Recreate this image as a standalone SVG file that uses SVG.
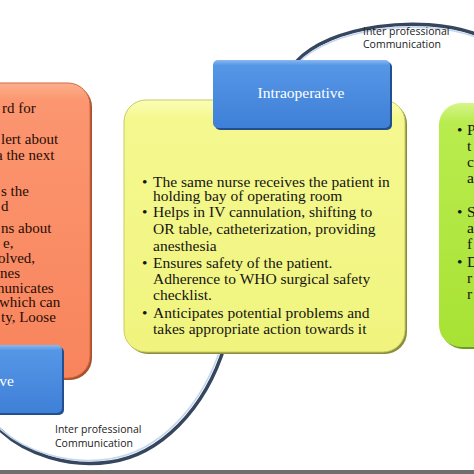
<svg xmlns="http://www.w3.org/2000/svg" width="474" height="474" viewBox="0 0 474 474">
<defs>
<linearGradient id="gOr" x1="0" y1="0" x2="0" y2="1"><stop offset="0" stop-color="#fcb08a"/><stop offset="0.06" stop-color="#fb9670"/><stop offset="1" stop-color="#f8845c"/></linearGradient>
<linearGradient id="gYe" x1="0" y1="0" x2="0" y2="1"><stop offset="0" stop-color="#fbfdb8"/><stop offset="0.07" stop-color="#f5f88f"/><stop offset="1" stop-color="#f0f47e"/></linearGradient>
<linearGradient id="gGr" x1="0" y1="0" x2="0" y2="1"><stop offset="0" stop-color="#d4f58a"/><stop offset="0.08" stop-color="#b9ec4e"/><stop offset="1" stop-color="#a8e234"/></linearGradient>
<linearGradient id="gBl" x1="0" y1="0" x2="0" y2="1"><stop offset="0" stop-color="#8ab8f0"/><stop offset="0.08" stop-color="#5596e6"/><stop offset="1" stop-color="#3f80d8"/></linearGradient>
</defs>
<style>
.t{font-family:"Liberation Serif","Times New Roman",serif;font-size:15.5px;fill:#141414}
.to{font-family:"Liberation Serif","Times New Roman",serif;font-size:15px;fill:#2a0c04}
.tw{font-family:"Liberation Serif","Times New Roman",serif;font-size:15.5px;fill:#ffffff}
.lab{font-family:"Open Sans","Liberation Sans",sans-serif;font-size:10.5px;fill:#222}
.arcD{fill:none;stroke:#36465f;stroke-width:3.5}
.arcL{fill:none;stroke:#c4d7ee;stroke-width:1.6}
</style>
<rect x="0" y="470" width="474" height="4" fill="#6e6e6e"/>
<g id="connectors">
<path class="arcD" d="M 296 62 C 330 25, 420 14, 476 34"/>
<path class="arcL" d="M 297 64 C 331 28, 420 17, 476 37"/>
<path class="arcD" d="M -2 428 C 25 455, 70 468, 110 462 C 160 455, 205 410, 225 345"/>
<path class="arcL" d="M -3 426 C 24 452, 69 465, 109 459 C 158 452, 202 408, 222 344"/>
<text class="lab" x="363" y="35">Inter professional</text>
<text class="lab" x="363" y="48">Communication</text>
<text class="lab" x="55" y="433">Inter professional</text>
<text class="lab" x="55" y="447">Communication</text>
</g>
<g id="preop-box">
<rect x="-28" y="85" width="120" height="295" rx="22" fill="#a9512d"/>
<rect x="-30" y="83" width="120" height="295" rx="22" fill="url(#gOr)" stroke="#d06a44" stroke-width="1"/>
<text class="to" x="2" y="113">rd for</text>
<text class="to" x="1" y="144">lert about</text>
<text class="to" x="-4" y="160">a the next</text>
<text class="to" x="1" y="196">s the</text>
<text class="to" x="1" y="211">d</text>
<text class="to" x="1" y="233">ns about</text>
<text class="to" x="3" y="248">e,</text>
<text class="to" x="-2" y="263">olved,</text>
<text class="to" x="0" y="278">nes</text>
<text class="to" x="-3" y="293">nunicates</text>
<text class="to" x="-1" y="307">which can</text>
<text class="to" x="1" y="322">ty, Loose</text>
</g>
<g id="preop-label">
<rect x="-38" y="347" width="102" height="68" rx="5" fill="#244f8f"/>
<rect x="-40" y="345" width="102" height="68" rx="5" fill="url(#gBl)"/>
<text class="tw" x="14" y="386" text-anchor="end">ve</text>
</g>
<g id="intraop-box">
<rect x="126" y="102" width="281" height="252" rx="22" fill="#8c8c3c"/>
<rect x="124" y="100" width="281" height="252" rx="22" fill="url(#gYe)" stroke="#c8cc60" stroke-width="1"/>
<g class="t">
<text x="142" y="187">•<tspan x="153">The same nurse receives the patient in</tspan></text>
<text x="153" y="201">holding bay of operating room</text>
<text x="142" y="217">•<tspan x="153">Helps in IV cannulation, shifting to</tspan></text>
<text x="153" y="234">OR table, catheterization, providing</text>
<text x="153" y="251">anesthesia</text>
<text x="142" y="268">•<tspan x="153">Ensures safety of the patient.</tspan></text>
<text x="153" y="284">Adherence to WHO surgical safety</text>
<text x="153" y="300">checklist.</text>
<text x="142" y="318">•<tspan x="153">Anticipates potential problems and</tspan></text>
<text x="153" y="334">takes appropriate action towards it</text>
</g>
</g>
<g id="intraop-label">
<rect x="215" y="62" width="177" height="68" rx="5" fill="#244f8f"/>
<rect x="213" y="60" width="177" height="68" rx="5" fill="url(#gBl)"/>
<text class="tw" x="301" y="98" text-anchor="middle">Intraoperative</text>
</g>
<g id="postop-box">
<rect x="441" y="105" width="60" height="244" rx="22" fill="#6f9a24"/>
<rect x="439" y="103" width="60" height="244" rx="22" fill="url(#gGr)"/>
<g class="t">
<text x="457" y="135">•<tspan x="467">P</tspan></text>
<text x="467" y="151">t</text>
<text x="467" y="167">c</text>
<text x="467" y="183">a</text>
<text x="457" y="217">•<tspan x="467">S</tspan></text>
<text x="467" y="233">a</text>
<text x="467" y="249">f</text>
<text x="457" y="267">•<tspan x="467">D</tspan></text>
<text x="467" y="283">r</text>
<text x="467" y="299">r</text>
</g>
</g>
</svg>
